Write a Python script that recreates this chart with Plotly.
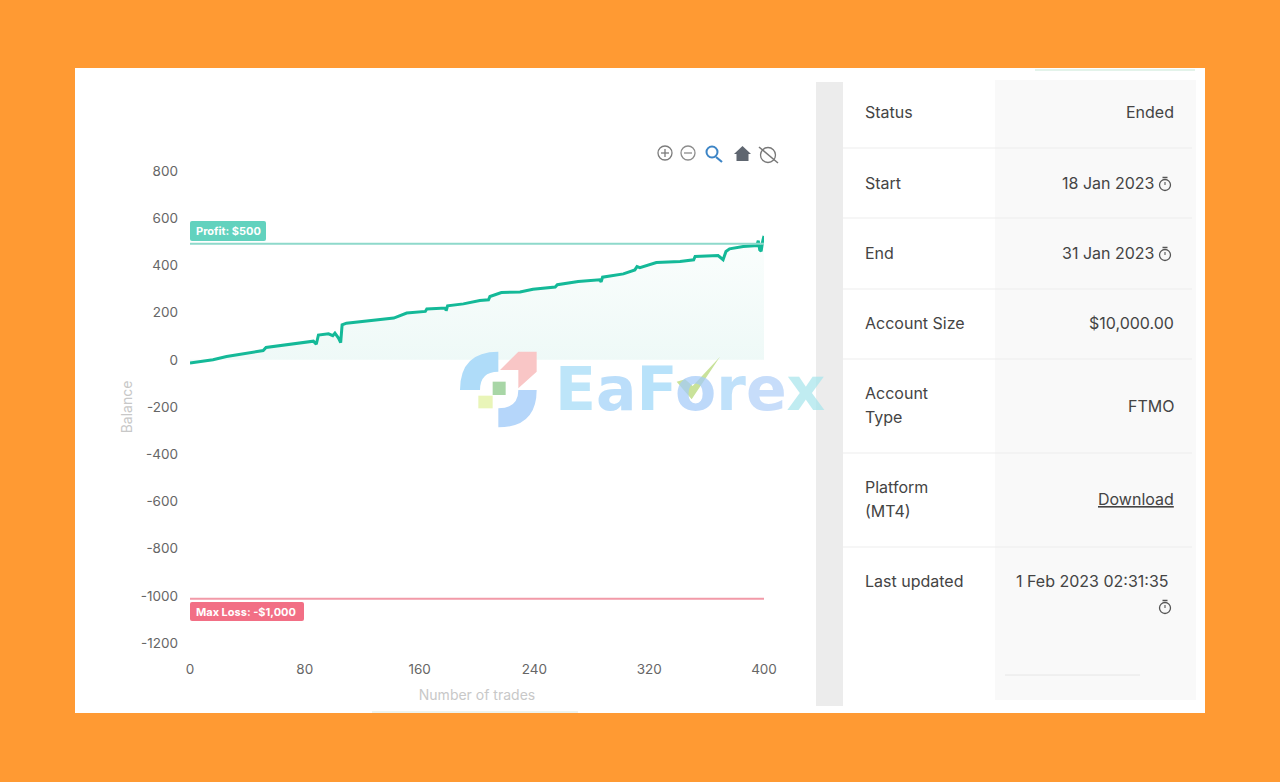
import plotly.graph_objects as go

# ---------- data ----------
trades = [0, 16, 25.5, 36, 51, 53, 72, 86, 88, 89.5, 96.5, 99.5, 101, 103.5, 105, 106, 109,
          132, 142, 151, 164, 165, 178, 178.5, 179.5, 190.5, 202, 208, 209, 217, 230, 239,
          254.5, 256, 270.5, 285.5, 286.5, 287.5, 302, 310, 311.5, 313.5, 325, 341.5, 351, 352, 368, 371.5,
          373.5, 376, 385.5, 395, 396, 397, 398, 399, 400]
balance = [-14, 0, 14, 25, 39, 52, 66, 79, 66, 105, 110, 102, 113, 92, 73, 148, 155,
           169, 177, 198, 205, 215, 219, 208, 229, 237, 251, 254, 268, 285, 287, 299,
           308, 318, 332, 339, 330, 350, 364, 381, 395, 390, 412, 417, 424, 438, 442, 424,
           459, 470, 480, 484, 505, 466, 460, 500, 525]
profit_level = 492
loss_level = -1013
limit_x = [0, 400]
y_ticks = [800, 600, 400, 200, 0, -200, -400, -600, -800, -1000, -1200]
y_tick_labels = ["800", "600", "400", "200", "0", "-200", "-400", "-600", "-800", "-1000", "-1200"]
x_ticks = [0, 80, 160, 240, 320, 400]
row_labels = ["Status", "Start", "End", "Account Size", "Account<br>Type", "Platform<br>(MT4)", "Last updated"]
row_values = ["Ended", "18 Jan 2023", "31 Jan 2023", "$10,000.00", "FTMO", "<u>Download</u>", "1 Feb 2023 02:31:35"]
row_y = [112, 183, 253, 323, 405, 499, 581]
row_lines = [148, 218, 289, 359, 453, 547]
timer_y = [184, 254, 607]
watermark = [("E", "#A4DCF8"), ("a", "#A2D2F9"), ("F", "#9ED8F9"), ("o", "#A4CBF9"),
             ("r", "#A8D6F9"), ("e", "#B2D0F9"), ("x", "#A8E6EC")]

W, H = 1280, 782
FONT = "Inter"
px = lambda x: x / W
py = lambda y: 1 - y / H


def rect(x0, y0, x1, y1, fill, layer="below", line=None):
    return dict(type="rect", xref="paper", yref="paper", x0=px(x0), x1=px(x1), y0=py(y0), y1=py(y1),
                fillcolor=fill, layer=layer, line=dict(width=0) if line is None else line)


def seg(x0, y0, x1, y1, color, width=1, layer="below"):
    return dict(type="line", xref="paper", yref="paper", x0=px(x0), x1=px(x1), y0=py(y0), y1=py(y1),
                layer=layer, line=dict(color=color, width=width))


def circ(cx, cy, r, color, width=1.3, fill="rgba(0,0,0,0)"):
    return dict(type="circle", xref="paper", yref="paper", x0=px(cx - r), x1=px(cx + r),
                y0=py(cy + r), y1=py(cy - r), layer="above", fillcolor=fill,
                line=dict(color=color, width=width))


def path(points, fill, layer="above", opacity=1):
    parts = []
    for p in points:
        if p[0] == "Q":
            parts.append(f"Q {px(p[1])} {py(p[2])} {px(p[3])} {py(p[4])}")
        else:
            parts.append(f"{p[0]} {px(p[1])} {py(p[2])}")
    return dict(type="path", xref="paper", yref="paper", path=" ".join(parts) + " Z",
                fillcolor=fill, layer=layer, opacity=opacity, line=dict(width=0))


def badge(x0, y0, x1, y1, fill, r=2):
    return path([("M", x0 + r, y0), ("L", x1 - r, y0), ("Q", x1, y0, x1, y0 + r), ("L", x1, y1 - r),
                 ("Q", x1, y1, x1 - r, y1), ("L", x0 + r, y1), ("Q", x0, y1, x0, y1 - r), ("L", x0, y0 + r),
                 ("Q", x0, y0, x0 + r, y0)], fill)


def zx(v):
    return 440 + v / 3


def zy(v):
    return 340 + v / 3


fig = go.Figure()
fig.add_trace(go.Scatter(x=trades, y=balance, mode="lines", fill="tozeroy",
                         fillgradient=dict(type="vertical",
                                           colorscale=[[0, "#EEF9F7"], [1, "#FBFEFD"]]),
                         line=dict(color="#14B998", width=3), hoverinfo="skip", showlegend=False))
fig.add_trace(go.Scatter(x=limit_x, y=[profit_level] * 2, mode="lines",
                         line=dict(color="#8ED9CB", width=2), hoverinfo="skip", showlegend=False))
fig.add_trace(go.Scatter(x=limit_x, y=[loss_level] * 2, mode="lines",
                         line=dict(color="#F29AA8", width=2), hoverinfo="skip", showlegend=False))

shapes = [
    rect(75, 68, 1205, 713, "#FFFFFF"),
    rect(995, 80, 1196, 700, "#F9F9F9"),
    rect(816, 82, 843, 706, "#ECECEC"),
    seg(372, 712, 578, 712, "#DDE8DC"),
    seg(1005, 675, 1140, 675, "#E6E6E6"),
    seg(1035, 70, 1195, 70, "#E3F3EA", 2),
]
shapes += [seg(843, y, 1192, y, "#EDEDED", 1.2) for y in row_lines]
annotations = []


def text(x, y, s, anchor="left", size=16, color="#444444", family=FONT, opacity=1):
    annotations.append(dict(xref="paper", yref="paper", x=px(x), y=py(y), text=s, showarrow=False,
                            xanchor=anchor, yanchor="middle", align=anchor, opacity=opacity,
                            font=dict(family=family, size=size, color=color)))


for lab, y in zip(row_labels, row_y):
    lines = lab.split("<br>")
    if len(lines) == 2:
        # the two lines sit further apart than a default line break
        text(863, y - 12, lines[0])
        text(863, y + 12, lines[1])
    else:
        text(863, y, lab)
for val, y in zip(row_values, row_y):
    if "Jan" in val:
        text(1155.5, y, val, "right")
    elif "Feb" in val:
        text(1171, y, val, "right")
    else:
        text(1176, y + (1 if val == "FTMO" else 0), val, "right")

# stopwatch icons
for y in timer_y:
    shapes += [circ(1165, y + 1, 5.5, "#555555"), seg(1162.5, y - 6.5, 1167.5, y - 6.5, "#555555", 1.5, "above"),
               seg(1165, y + 1, 1165, y - 2, "#555555", 1.1, "above")]

# badges
shapes += [badge(190, 221, 266, 241, "#62D2BE"), badge(190, 602, 304, 621, "#F26F85")]
text(194, 231, "<b>Profit: $500</b>", size=11, color="#FFFFFF")
text(194, 612, "<b>Max Loss: -$1,000</b>", size=11, color="#FFFFFF")

# toolbar icons
shapes += [
    circ(665, 153, 7, "#7C7C7C"), seg(661, 153, 669, 153, "#7C7C7C", 1.3, "above"), seg(665, 149, 665, 157, "#7C7C7C", 1.3, "above"),
    circ(688, 153, 7, "#8C8C8C"), seg(684, 153, 692, 153, "#8C8C8C", 1.3, "above"),
    circ(712, 152, 5.5, "#3D85C6", 2), seg(716, 157, 722, 162, "#3D85C6", 2.2, "above"),
    path([("M", 734, 154), ("L", 742.5, 146), ("L", 751, 154), ("L", 748.5, 154), ("L", 748.5, 161), ("L", 736.5, 161), ("L", 736.5, 154)], "#5F6670"),
    circ(768, 155, 7.5, "#777777"), seg(759, 147, 778, 163, "#777777", 1.5, "above"),
]

# watermark logo
shapes += [
    path([("M", zx(60), zy(150)), ("Q", zx(60), zy(35), zx(175), zy(35)), ("L", zx(175), zy(95)), ("Q", zx(120), zy(95), zx(120), zy(150))], "#AFDCF9"),
    path([("M", zx(180), zy(90)), ("L", zx(235), zy(35)), ("L", zx(290), zy(35)), ("L", zx(290), zy(95)), ("L", zx(235), zy(145)), ("L", zx(235), zy(90))], "#F9C6C6"),
    path([("M", zx(290), zy(150)), ("Q", zx(290), zy(262), zx(175), zy(262)), ("L", zx(175), zy(205)), ("Q", zx(235), zy(205), zx(235), zy(150))], "#B5D6FA"),
    rect(zx(158), zy(125), zx(197), zy(165), "#A8D6A6", "above"),
    rect(zx(115), zy(167), zx(158), zy(205), "#E9F5B8", "above"),
    path([("M", zx(710), zy(125)), ("L", zx(735), zy(118)), ("L", zx(758), zy(138)), ("L", zx(840), zy(50)), ("L", zx(755), zy(178))], "#C9E29A"),
]
letters = "".join(f'<span style="color:{c}">{l}</span>' for l, c in watermark)
text(690, 389, f"<b>{letters}</b>", "center", size=60, color="#A4DCF8", family="DejaVu Sans", opacity=0.72)

fig.update_layout(
    width=W, height=H, autosize=False,
    margin=dict(l=0, r=0, t=0, b=0),
    paper_bgcolor="#FF9A33", plot_bgcolor="#FDFEFE",
    shapes=shapes, annotations=annotations,
    font=dict(family=FONT, size=14, color="#666666"),
    xaxis=dict(domain=[px(190), px(764)], range=[0, 400], tickvals=x_ticks, showgrid=False, zeroline=False,
               showline=False, ticks="", automargin=False, ticklabelstandoff=16,
               tickfont=dict(size=13.5, color="#666666"),
               title=dict(text="Number of trades", font=dict(size=14, color="#C8C8C8"), standoff=14)),
    yaxis=dict(domain=[py(643), py(171)], range=[-1200, 800], tickvals=y_ticks, ticktext=y_tick_labels,
               showgrid=False, zeroline=False, showline=False, ticks="", automargin=False, ticklabelstandoff=11,
               tickfont=dict(size=13.5, color="#666666"),
               title=dict(text="Balance", font=dict(size=14, color="#C8C8C8"), standoff=4)),
)

fig.write_html("out.html", config=dict(displayModeBar=False),
               post_script="document.body.style.margin='0';document.documentElement.style.overflow='hidden';")
